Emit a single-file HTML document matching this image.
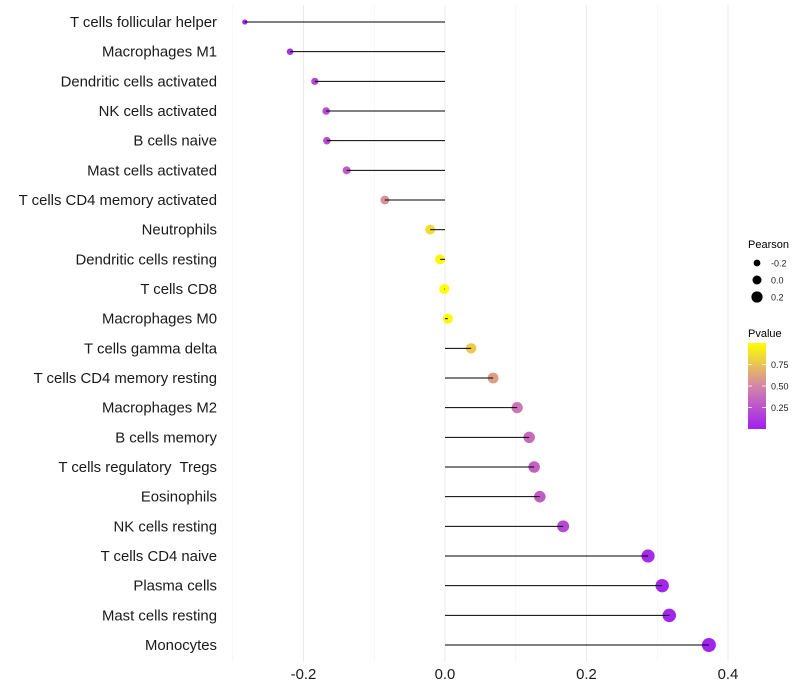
<!DOCTYPE html>
<html><head><meta charset="utf-8">
<style>
body{margin:0;background:#fff;font-family:"Liberation Sans",sans-serif;}
svg{display:block}
text{white-space:pre}
</style></head>
<body>
<svg id="chart" width="800" height="700" xmlns="http://www.w3.org/2000/svg"></svg>
<script>
const categories=["T cells follicular helper","Macrophages M1","Dendritic cells activated","NK cells activated","B cells naive","Mast cells activated","T cells CD4 memory activated","Neutrophils","Dendritic cells resting","T cells CD8","Macrophages M0","T cells gamma delta","T cells CD4 memory resting","Macrophages M2","B cells memory","T cells regulatory  Tregs","Eosinophils","NK cells resting","T cells CD4 naive","Plasma cells","Mast cells resting","Monocytes"];
const pearson=[-0.283,-0.219,-0.184,-0.168,-0.167,-0.139,-0.085,-0.021,-0.007,-0.001,0.004,0.037,0.068,0.102,0.119,0.126,0.134,0.167,0.287,0.307,0.317,0.373];
const pvalue=[0.04,0.1,0.2,0.22,0.22,0.3,0.55,0.85,0.97,1.0,0.98,0.78,0.6,0.42,0.36,0.32,0.3,0.2,0.05,0.04,0.03,0.02];
const xTicks=[-0.2,0.0,0.2,0.4];
const xTickLabels=["-0.2","0.0","0.2","0.4"];
const xMinor=[-0.3,-0.1,0.1,0.3];
const sizeLegend=[-0.2,0.0,0.2];
const colorTicks=[0.25,0.5,0.75];

const NS="http://www.w3.org/2000/svg";
const svg=document.getElementById('chart');
function el(t,a,p){const e=document.createElementNS(NS,t);for(const k in a)e.setAttribute(k,a[k]);(p||svg).appendChild(e);return e;}
const x=v=>445+v*707.5;
const y=i=>22+i*(645-22)/21;
const r=v=>Math.sqrt(Math.max(2.5,10.9+(v+0.22)*64.2));
const stops=[[0,[160,32,240]],[0.5,[212,134,168]],[1,[255,255,0]]];
function col(p){p=Math.max(0,Math.min(1,p));let i=p<=0.5?0:1;const a=stops[i],b=stops[i+1];const t=(p-a[0])/(b[0]-a[0]);const c=a[1].map((v,k)=>Math.round(v+(b[1][k]-v)*t));return `rgb(${c})`;}

const grid=el('g',{});


xMinor.forEach(v=>{const l=el('line',{x1:x(v),x2:x(v),y1:5,y2:662,stroke:'#f2f2f2','stroke-width':0.6},grid);});
xTicks.forEach(v=>{const l=el('line',{x1:x(v),x2:x(v),y1:5,y2:662,stroke:'#ebebeb','stroke-width':1},grid);});

categories.forEach((c,i)=>{
  const t=el('text',{x:217,y:y(i)+5,'text-anchor':'end','font-size':14.9,fill:'#1a1a1a'});
  t.textContent=c;
  
  
  const d=el('circle',{cx:x(pearson[i]),cy:y(i),r:r(pearson[i]),fill:col(pvalue[i])});
  
  
  const s=el('line',{x1:x(0),x2:x(pearson[i]),y1:y(i),y2:y(i),stroke:'#000','stroke-width':1});
  
  
});
xTicks.forEach((v,i)=>{const t=el('text',{x:x(v),y:679,'text-anchor':'middle','font-size':14.9,fill:'#1a1a1a'});t.textContent=xTickLabels[i];});

// legends
const lg=el('g',{});


const lt=el('text',{x:748,y:248,'font-size':11,fill:'#000'},lg);lt.textContent='Pearson';


sizeLegend.forEach((v,i)=>{const cy=263+i*17;const c=el('circle',{cx:757,cy:cy,r:3.4+i*1.1,fill:'#000'},lg);
 const t=el('text',{x:771,y:cy+3.5,'font-size':9,fill:'#222'},lg);t.textContent=v.toFixed(1);});
const ct=el('text',{x:748,y:337,'font-size':11,fill:'#000'},lg);ct.textContent='Pvalue';


const defs=el('defs',{});const gr=el('linearGradient',{id:'pg',x1:0,y1:1,x2:0,y2:0},defs);
for(let k=0;k<=10;k++)el('stop',{offset:k/10,'stop-color':col(k/10)},gr);
const bar=el('rect',{x:748,y:343,width:18,height:86,fill:'url(#pg)'},lg);


colorTicks.forEach(v=>{const yy=429-v*86;el('line',{x1:748,x2:752,y1:yy,y2:yy,stroke:'#fff','stroke-width':0.8},lg);el('line',{x1:762,x2:766,y1:yy,y2:yy,stroke:'#fff','stroke-width':0.8},lg);
 const t=el('text',{x:771,y:yy+3.5,'font-size':9,fill:'#222'},lg);t.textContent=v.toFixed(2);});
</script>
</body></html>
